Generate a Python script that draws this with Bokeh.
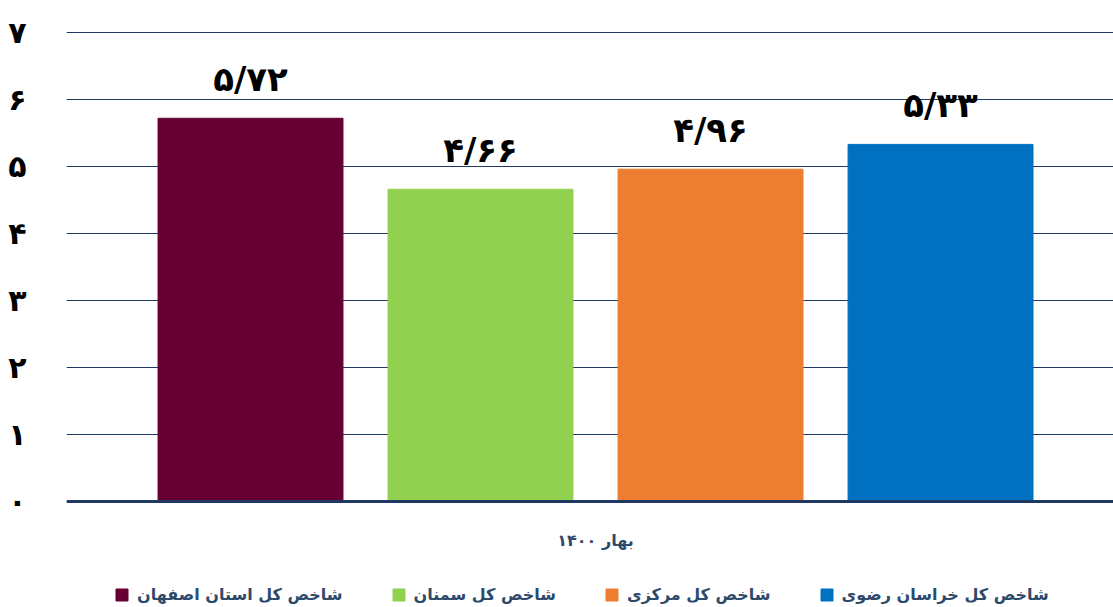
from bokeh.plotting import figure
from bokeh.models import (ColumnDataSource, Range1d, FixedTicker, Legend, LegendItem, Span)
from bokeh.core.properties import value
from bokeh.embed import file_html
from bokeh.resources import INLINE

# ---- data ----
categories = ["شاخص کل استان اصفهان", "شاخص کل سمنان", "شاخص کل مرکزی", "شاخص کل خراسان رضوی"]
values = [5.72, 4.66, 4.96, 5.33]
period_label = "بهار ۱۴۰۰"
y_ticks = [0, 1, 2, 3, 4, 5, 6, 7]
colors = ["#660033", "#92D050", "#ED7D31", "#0070C0"]

FA_DIGITS = str.maketrans("0123456789.", "۰۱۲۳۴۵۶۷۸۹/")

def fa(num_text):
    return num_text.translate(FA_DIGITS)

xs = list(range(len(categories)))
src = ColumnDataSource(dict(
    x=xs, top=values, color=colors, name=categories,
    label=[fa(f"{v:.2f}") for v in values],
))

FONT = "DejaVu Sans"
NAVY = "#1F3864"
TXT = "#2E4A6B"

p = figure(width=1113, height=607, output_backend="svg", toolbar_location=None,
           x_range=Range1d(-0.8, 3.752), y_range=Range1d(-1.582, 7.03),
           min_border_left=66, min_border_right=0, min_border_top=30,
           min_border_bottom=0, outline_line_color=None)

r = p.vbar(x="x", top="top", width=0.804, bottom=0, color="color", source=src)

p.text(x="x", y="top", text="label", source=src, y_offset=-19,
       text_align="center", text_baseline="bottom",
       text_font=value(FONT), text_font_style="bold", text_font_size="34px",
       text_color="#000000")

# baseline (value axis zero line)
p.add_layout(Span(location=0, dimension="width", line_color=NAVY, line_width=3))

# period label under the baseline
p.text(x=[1.5], y=[0], text=[period_label], y_offset=39,
       text_align="center", text_baseline="middle",
       text_font=value(FONT), text_font_style="bold", text_font_size="16px",
       text_color=TXT)

# grid
p.xgrid.grid_line_color = None
p.ygrid.ticker = FixedTicker(ticks=y_ticks)
p.ygrid.grid_line_color = NAVY
p.ygrid.grid_line_width = 1.2

# y axis
p.yaxis.ticker = FixedTicker(ticks=y_ticks)
p.yaxis.major_label_overrides = {t: fa(str(t)) for t in y_ticks}
p.yaxis.axis_line_color = None
p.yaxis.major_tick_line_color = None
p.yaxis.minor_tick_line_color = None
p.yaxis.major_label_standoff = 34
p.yaxis.major_label_text_font = FONT
p.yaxis.major_label_text_font_style = "bold"
p.yaxis.major_label_text_font_size = "30px"
p.yaxis.major_label_text_color = "#000000"

p.xaxis.visible = False

items = [LegendItem(label=categories[i], renderers=[r], index=i) for i in range(len(categories))]
legend = Legend(items=items, orientation="horizontal", location=(48, 3),
                margin=0, padding=0, spacing=48, glyph_width=15, glyph_height=15,
                label_standoff=8, label_text_font=FONT, label_text_font_size="16px",
                label_text_font_style="bold", label_height=18,
                label_text_color=TXT, background_fill_alpha=0, border_line_color=None)
p.add_layout(legend, "center")

open("out.html", "w").write(file_html(p, INLINE))
